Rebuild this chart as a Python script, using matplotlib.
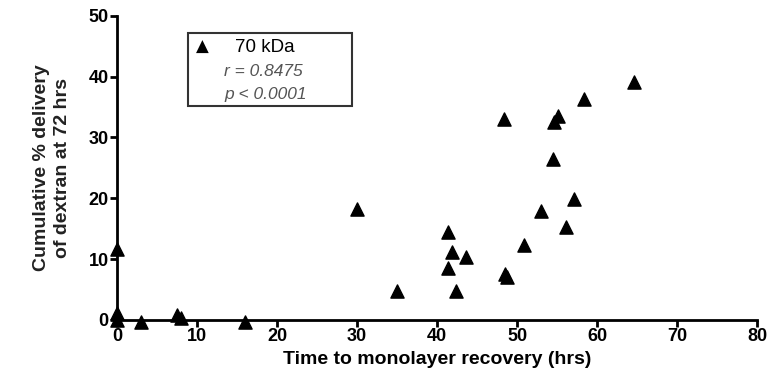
import matplotlib
matplotlib.use("Agg")
import matplotlib.pyplot as plt
from matplotlib.patches import Rectangle

x_hours = [0, 0, 0, 3, 7.5, 8, 16, 30, 35, 41.4, 41.8, 41.4, 43.6, 42.4,
           48.3, 48.5, 48.7, 50.9, 53, 54.5, 54.6, 55.1, 56.1, 57.1, 58.4, 64.6]
y_delivery = [0, 1.2, 11.6, -0.3, 0.9, 0.4, -0.3, 18.2, 4.8, 14.5, 11.2, 8.6, 10.4, 4.8,
              33.0, 7.5, 7.0, 12.4, 17.9, 26.4, 32.6, 33.5, 15.3, 19.9, 36.3, 39.1]
x_ticks = [0, 10, 20, 30, 40, 50, 60, 70, 80]
y_ticks = [0, 10, 20, 30, 40, 50]

fig = plt.figure(figsize=(7.75, 3.86), dpi=100)
ax = fig.add_axes([0.151, 0.171, 0.826, 0.788])
ax.scatter(x_hours, y_delivery, marker='^', s=90, color='black', clip_on=False, zorder=3)
ax.set_xlim(0, 80)
ax.set_ylim(0, 50)
ax.set_xticks(x_ticks)
ax.set_yticks(y_ticks)
for s in ['top', 'right']:
    ax.spines[s].set_visible(False)
for s in ['left', 'bottom']:
    ax.spines[s].set_linewidth(2)
ax.tick_params(direction='out', length=5, width=2, labelsize=13, pad=1)
for lbl in ax.get_xticklabels() + ax.get_yticklabels():
    lbl.set_fontweight('bold')
    lbl.set_family(['Liberation Sans', 'DejaVu Sans'])
ax.set_xlabel('Time to monolayer recovery (hrs)', fontsize=14, fontweight='bold',
              family=['Liberation Sans', 'DejaVu Sans'], labelpad=4)
ax.set_ylabel('Cumulative % delivery\nof dextran at 72 hrs', fontsize=14, fontweight='bold',
              family=['Liberation Sans', 'DejaVu Sans'], labelpad=13, linespacing=1.3,
              color='#222222')

# legend box
box = Rectangle((188/775, 1-106/386), (352-188)/775, (106-33)/386, transform=fig.transFigure,
                fill=False, edgecolor='#333333', linewidth=1.5)
fig.patches.append(box)
fig.text(202/775, 1-47/386, '\u25B2', fontsize=12, ha='center', va='center', color='black',
         family=['DejaVu Sans'])
fig.text(235/775, 1-47/386, '70 kDa', fontsize=13.5, ha='left', va='center',
         family=['Liberation Sans', 'DejaVu Sans'])
fig.text(224/775, 1-71/386, 'r = 0.8475', fontsize=12.5, ha='left', va='center', style='italic',
         color='#555555', family=['Liberation Sans', 'DejaVu Sans'])
fig.text(224/775, 1-94/386, 'p < 0.0001', fontsize=12.5, ha='left', va='center', style='italic',
         color='#555555', family=['Liberation Sans', 'DejaVu Sans'])

fig.savefig('out.png', dpi=100)
